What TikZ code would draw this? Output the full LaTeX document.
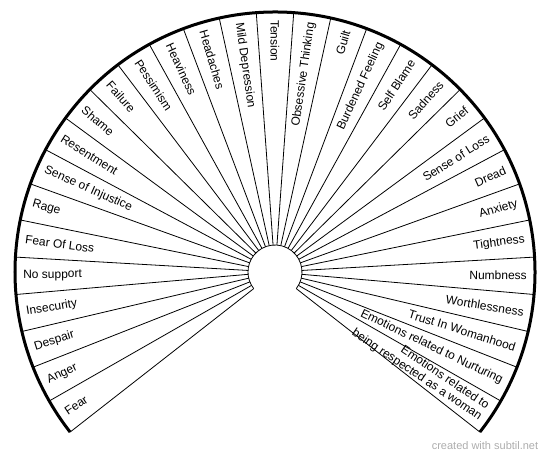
\documentclass[tikz,border=0pt]{standalone}
\usepackage{fontspec}
\setmainfont{Liberation Sans}
\begin{document}
\begin{tikzpicture}[x=1pt, y=1pt, every node/.style={font=\fontsize{12}{13}\selectfont, inner sep=0pt, align=right}]
	\useasboundingbox (-275,-185) rectangle (275,272);
	\def\rin{27}
	\def\rout{260}
	\draw[line width=3pt] (-38:\rout) arc (-38:218:\rout);
	\draw[line width=0.8pt] (-38:\rin) arc (-38:218:\rin);
	\foreach \k in {0,...,31}
		\draw[line width=0.8pt] ({218-\k*256/31}:\rin) -- ({218-\k*256/31}:\rout);
	\foreach \txt [count=\i from 0] in {Fear, Anger, Despair, Insecurity, No support, Fear Of Loss, Rage, Sense of Injustice, Resentment, Shame, Failure, Pessimism, Heaviness, Headaches, Mild Depression, Tension, Obsessive Thinking, Guilt, Burdened Feeling, Self Blame, Sadness, Grief, Sense of Loss, Dread, Anxiety, Tightness, Numbness, Worthlessness, Trust In Womanhood, Emotions related to Nurturing, {Emotions related to\\being respected as a woman}}{
		\pgfmathsetmacro\a{218-(\i+0.5)*256/31}
		\ifdim\a pt>89.9pt
			\node[anchor=west, rotate=\a-180] (emo\i) at (\a:\rout-8) {\txt};
		\else
			\node[anchor=east, rotate=\a] (emo\i) at (\a:\rout-8) {\txt};
		\fi
	}
	\node[text=black!32, font=\fontsize{11}{13}\selectfont] (credit) at (210,-174) {created with subtil.net};
\end{tikzpicture}
\end{document}
